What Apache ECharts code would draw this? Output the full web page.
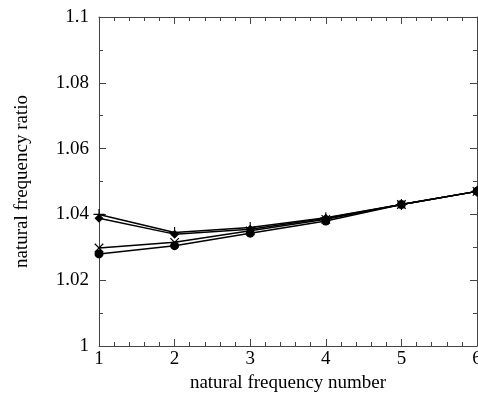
<!DOCTYPE html>
<html style="height: 100%">
<head>
    <meta charset="utf-8">
</head>
<body style="height: 100%; margin: 0; background: #fff">
<div id="container" style="width: 478px; height: 402px"></div>
<script type="text/javascript" src="https://cdn.jsdelivr.net/npm/echarts@6/dist/echarts.min.js"></script>
<script type="text/javascript">
    // natural frequency number (x) and ratio for each of the four cases
    var modeNumbers = [1, 2, 3, 4, 5, 6];
    var plusRatio = [1.0400, 1.0345, 1.0360, 1.0390, 1.0430, 1.0470];
    var diamondRatio = [1.0388, 1.0340, 1.0355, 1.0388, 1.0430, 1.0470];
    var crossRatio = [1.0298, 1.0315, 1.0350, 1.0385, 1.0430, 1.0470];
    var circleRatio = [1.0280, 1.0305, 1.0343, 1.0380, 1.0430, 1.0470];

    var FONT = 'Liberation Serif';
    var PLUS = 'path://M-1,-10H1V10H-1Z M-10,-1H10V1H-10Z';

    function pairs(ys) {
        return modeNumbers.map(function (x, i) { return [x, ys[i]]; });
    }

    function makeSeries(name, ys, symbol, size, rotate) {
        return {
            name: name,
            type: 'line',
            data: pairs(ys),
            symbol: symbol,
            symbolSize: size,
            symbolRotate: rotate || 0,
            showAllSymbol: true,
            lineStyle: {color: '#000', width: 1.5},
            itemStyle: {color: '#000'},
            clip: false,
            animation: false
        };
    }

    var axisLine = {show: true, lineStyle: {color: '#444', width: 1}};

    var myChart = echarts.init(document.getElementById('container'));
    var option = {
        animation: false,
        grid: {left: 99, right: 1, top: 17, bottom: 56, outerBoundsMode: 'none', containLabel: false},
        xAxis: [{
            type: 'value', min: 1, max: 6, interval: 1,
            name: 'natural frequency number', nameLocation: 'middle', nameGap: 27,
            nameTextStyle: {fontFamily: FONT, fontSize: 19, color: '#000'},
            axisLine: axisLine,
            axisTick: {inside: true, length: 7, lineStyle: {color: '#444'}},
            minorTick: {show: true, splitNumber: 5, length: 4, lineStyle: {color: '#444'}},
            axisLabel: {fontFamily: FONT, fontSize: 19, color: '#000', margin: 4},
            splitLine: {show: false}
        }, {
            type: 'value', min: 1, max: 6, interval: 1, position: 'top',
            axisLine: axisLine,
            axisTick: {inside: true, length: 7, lineStyle: {color: '#444'}},
            minorTick: {show: true, splitNumber: 5, length: 4, lineStyle: {color: '#444'}},
            axisLabel: {show: false},
            splitLine: {show: false}
        }],
        yAxis: [{
            type: 'value', min: 1, max: 1.1, interval: 0.02,
            name: 'natural frequency ratio', nameLocation: 'middle', nameGap: 67,
            nameTextStyle: {fontFamily: FONT, fontSize: 19, color: '#000'},
            axisLine: axisLine,
            axisTick: {inside: true, length: 7, lineStyle: {color: '#444'}},
            minorTick: {show: true, splitNumber: 2, length: 4, lineStyle: {color: '#444'}},
            axisLabel: {
                fontFamily: FONT, fontSize: 19, color: '#000', margin: 10,
                formatter: function (v) { return String(+v.toFixed(2)); }
            },
            splitLine: {show: false}
        }, {
            type: 'value', min: 1, max: 1.1, interval: 0.02, position: 'right',
            axisLine: axisLine,
            axisTick: {inside: true, length: 7, lineStyle: {color: '#444'}},
            minorTick: {show: true, splitNumber: 2, length: 4, lineStyle: {color: '#444'}},
            axisLabel: {show: false},
            splitLine: {show: false}
        }],
        series: [
            makeSeries('plus', plusRatio, PLUS, 11),
            makeSeries('diamond', diamondRatio, 'diamond', 9),
            makeSeries('cross', crossRatio, PLUS, 12, 45),
            makeSeries('circle', circleRatio, 'circle', 9)
        ]
    };
    myChart.setOption(option);
</script>
</body>
</html>
